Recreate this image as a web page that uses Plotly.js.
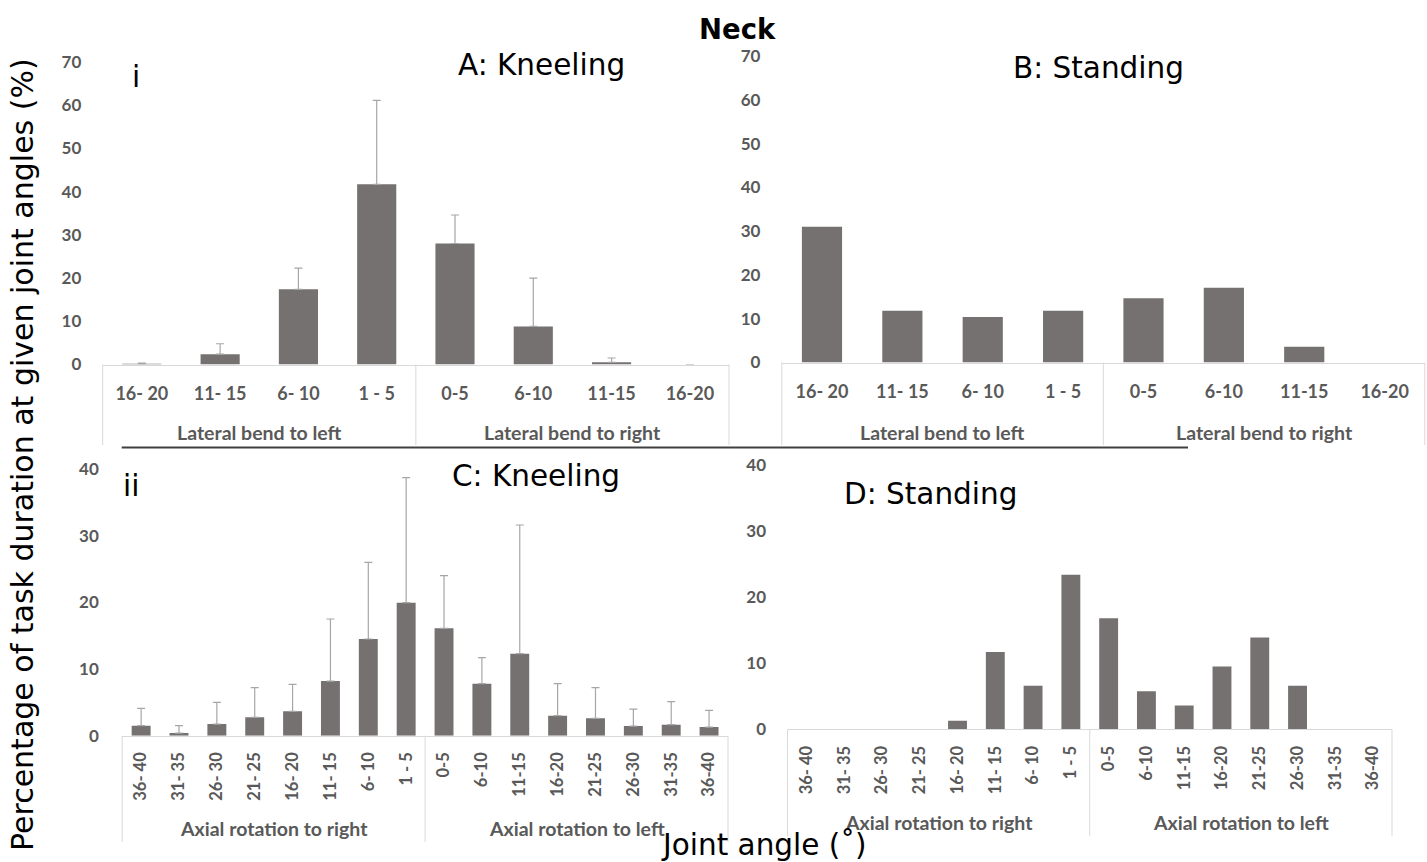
<!DOCTYPE html>
<html>
<head>
<meta charset="utf-8">
<script src="https://cdn.plot.ly/plotly-3.0.1.min.js"></script>
<style>html,body{margin:0;padding:0;background:#fff;}#chart{width:1427px;height:862px;}</style>
</head>
<body>
<div id="chart"></div>
<script>
// ---- data ----
const lateralCats = ['16- 20','11- 15','6- 10','1 - 5','0-5','6-10','11-15','16-20'];
const lateralGroups = ['Lateral bend to left','Lateral bend to right'];
const kneelingLateral = [0.15, 2.4, 17.4, 41.7, 28.0, 8.8, 0.5, 0];
const kneelingLateralErr = [0.2, 2.4, 4.9, 19.4, 6.6, 11.2, 1.0, 0];
const standingLateral = [31.0, 11.8, 10.4, 11.8, 14.7, 17.1, 3.6, 0];

const axialCats = ['36- 40','31- 35','26- 30','21- 25','16- 20','11- 15','6- 10','1 - 5',
                   '0-5','6-10','11-15','16-20','21-25','26-30','31-35','36-40'];
const axialGroups = ['Axial rotation to right','Axial rotation to left'];
const kneelingAxial = [1.5, 0.4, 1.75, 2.75, 3.65, 8.2, 14.5, 19.95, 16.1, 7.8, 12.3, 3.0, 2.6, 1.45, 1.65, 1.3];
const kneelingAxialErr = [2.6, 1.1, 3.25, 4.45, 4.05, 9.3, 11.5, 18.75, 7.9, 3.9, 19.3, 4.8, 4.6, 2.55, 3.45, 2.5];
const standingAxial = [0, 0, 0, 0, 1.3, 11.7, 6.6, 23.4, 16.8, 5.75, 3.6, 9.5, 13.9, 6.6, 0, 0];

const panelTitles = ['A: Kneeling','B: Standing','C: Kneeling','D: Standing'];
const mainTitle = 'Neck';
const yTitle = 'Percentage of task duration at given joint angles (%)';
const xTitle = 'Joint angle (˚)';

// ---- styling ----
const W = 1427, H = 862;
const px = v => v / W;
const py = v => 1 - v / H;
const barColor = '#767171';
const errColor = '#a6a6a6';
const fam = 'Lato, "Liberation Sans", sans-serif';
const yTickFont = {family: fam, size: 17, color: '#595959', weight: 700};
const xTickFontH = {family: fam, size: 18, color: '#595959', weight: 700};
const xTickFontR = {family: fam, size: 16.5, color: '#595959', weight: 700};
const groupFont = {family: fam, size: 19.5, color: '#595959', weight: 700};
const titleFont = {family: '"DejaVu Sans", sans-serif', size: 29.5, color: '#000'};

function errBar(arr) {
  return {type: 'data', array: arr, symmetric: false, arrayminus: arr.map(() => 0),
          color: errColor, thickness: 1.2, width: 4};
}

const traces = [
  {type: 'bar', x: lateralCats, y: kneelingLateral, error_y: errBar(kneelingLateralErr),
   marker: {color: barColor}, xaxis: 'x', yaxis: 'y', hoverinfo: 'x+y'},
  {type: 'bar', x: lateralCats, y: standingLateral,
   marker: {color: barColor}, xaxis: 'x2', yaxis: 'y2', hoverinfo: 'x+y'},
  {type: 'bar', x: axialCats, y: kneelingAxial, error_y: errBar(kneelingAxialErr),
   marker: {color: barColor}, xaxis: 'x3', yaxis: 'y3', hoverinfo: 'x+y'},
  {type: 'bar', x: axialCats, y: standingAxial,
   marker: {color: barColor}, xaxis: 'x4', yaxis: 'y4', hoverinfo: 'x+y'}
];

// panel geometry in pixels
const panels = [
  {x: [102.7, 729], y: [62, 364.5], range: 70, boxBottom: 445, groupY: 433, angle: 0, tlen: 13, ylen: 17, groups: lateralGroups, n: lateralCats.length, tf: xTickFontH},
  {x: [781.8, 1424.8], y: [56, 362.5], range: 70, boxBottom: 445, groupY: 433, angle: 0, tlen: 13, ylen: 17, groups: lateralGroups, n: lateralCats.length, tf: xTickFontH},
  {x: [122.2, 728], y: [469, 735.7], range: 40, boxBottom: 842, groupY: 828, angle: -90, tlen: 9, ylen: 19, groups: axialGroups, n: axialCats.length, tf: xTickFontR},
  {x: [787.5, 1392], y: [465, 729.3], range: 40, boxBottom: 836, groupY: 822, angle: -90, tlen: 9, ylen: 17, groups: axialGroups, n: axialCats.length, tf: xTickFontR}
];

const layout = {
  width: W, height: H,
  margin: {l: 0, r: 0, t: 0, b: 0},
  paper_bgcolor: '#fff', plot_bgcolor: '#fff',
  showlegend: false,
  bargap: 0.5,
  shapes: [], annotations: []
};

panels.forEach((p, i) => {
  const s = i === 0 ? '' : String(i + 1);
  layout['xaxis' + s] = {
    domain: [px(p.x[0]), px(p.x[1])], anchor: 'y' + s, type: 'category',
    range: [-0.5, p.n - 0.5], showgrid: false, zeroline: false,
    showline: true, linecolor: '#d9d9d9', linewidth: 1,
    ticks: 'outside', ticklen: p.tlen, tickcolor: 'rgba(0,0,0,0)',
    tickangle: p.angle, tickfont: p.tf, fixedrange: true
  };
  layout['yaxis' + s] = {
    domain: [py(p.y[1]), py(p.y[0])], anchor: 'x' + s,
    range: [0, p.range], dtick: 10, showgrid: false, zeroline: false, showline: false,
    ticks: 'outside', ticklen: p.ylen, tickcolor: 'rgba(0,0,0,0)',
    tickfont: yTickFont, fixedrange: true
  };
  [0, 0.5, 1].forEach(xx => {
    layout.shapes.push({type: 'line', xref: 'x' + s + ' domain', yref: 'paper',
      x0: xx, x1: xx, y0: py(p.y[1]), y1: py(p.boxBottom),
      line: {color: '#d9d9d9', width: 1}});
  });
  p.groups.forEach((g, k) => {
    layout.annotations.push({text: g, xref: 'x' + s + ' domain', yref: 'paper',
      x: 0.25 + 0.5 * k, y: py(p.groupY), xanchor: 'center', yanchor: 'middle',
      showarrow: false, font: groupFont});
  });
});

// separator line between rows
layout.shapes.push({type: 'line', xref: 'paper', yref: 'paper',
  x0: px(121.7), x1: px(1188), y0: py(447.5), y1: py(447.5),
  line: {color: '#404040', width: 2}});

const ann = (text, x, y, font, extra) => Object.assign({text, xref: 'paper', yref: 'paper',
  x: px(x), y: py(y), xanchor: 'center', yanchor: 'middle', showarrow: false, font}, extra || {});

layout.annotations.push(
  ann(mainTitle, 737.5, 29, {family: '"DejaVu Sans", sans-serif', size: 27.5, color: '#000', weight: 700}),
  ann(panelTitles[0], 541.5, 65, titleFont),
  ann(panelTitles[1], 1098, 68, titleFont),
  ann(panelTitles[2], 535.5, 476, titleFont),
  ann(panelTitles[3], 930, 494, titleFont),
  ann('i', 136, 77, titleFont),
  ann('ii', 131, 486, titleFont),
  ann(yTitle, 22, 455, {family: '"DejaVu Sans", sans-serif', size: 30, color: '#000'}, {textangle: -90}),
  ann(xTitle, 764, 845, titleFont)
);

Plotly.newPlot('chart', traces, layout, {displayModeBar: false, staticPlot: true});
</script>
</body>
</html>
